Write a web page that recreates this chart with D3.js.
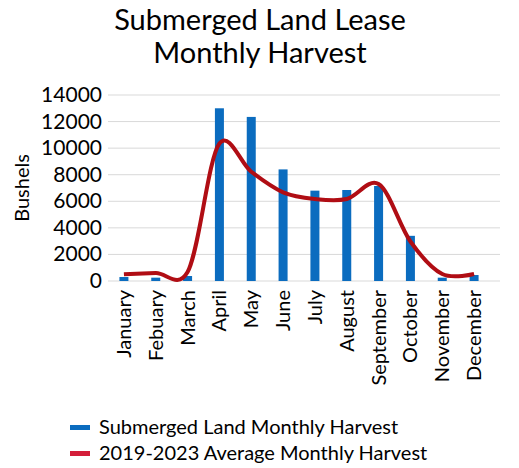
<!DOCTYPE html><html><head><meta charset="utf-8"><script src="https://cdn.jsdelivr.net/npm/d3@7"></script>
<style>body{margin:0;background:#fff}text{font-family:Lato,"Open Sans",sans-serif}</style></head><body><svg id="c" width="519" height="468"></svg><script>
const months=["January","Febuary","March","April","May","June","July","August","September","October","November","December"];
const harvest=[300,250,375,13000,12350,8400,6800,6850,7150,3400,250,450];
const average=[500,600,675,10350,8225,6675,6175,6175,7300,2975,525,525];
const yTicks=[0,2000,4000,6000,8000,10000,12000,14000];
const svg=d3.select("#c");
const x=d3.scaleBand().domain(months).range([108,490]);
const y=d3.scaleLinear().domain([0,14000]).range([281,95]);
svg.append("g").selectAll("line").data(yTicks.slice(1)).join("line").attr("x1",108).attr("x2",500).attr("y1",d=>y(d)).attr("y2",d=>y(d)).attr("stroke","#d9d9d9");
svg.append("line").attr("x1",108).attr("x2",500).attr("y1",y(0)).attr("y2",y(0)).attr("stroke","#d9d9d9");
svg.append("g").selectAll("text").data(yTicks).join("text").attr("x",102).attr("y",d=>y(d)+7).attr("text-anchor","end").attr("font-size",21).text(d=>d);
svg.append("text").attr("transform","translate(29,"+y(7000)+") rotate(-90)").attr("text-anchor","middle").attr("font-size",20).text("Bushels");
const cx=d=>x(d)+x.bandwidth()/2;
svg.append("g").selectAll("rect").data(harvest).join("rect").attr("x",(d,i)=>cx(months[i])-4.5).attr("width",9).attr("y",d=>y(d)).attr("height",d=>y(0)-y(d)).attr("fill","#0b6cbf");
svg.append("path").datum(average).attr("d",d3.line().x((d,i)=>cx(months[i])).y(d=>y(d)).curve(d3.curveCatmullRom.alpha(0.1))).attr("fill","none").attr("stroke","#b00d14").attr("stroke-width",4);
svg.append("g").selectAll("text").data(months).join("text").attr("transform",d=>"translate("+(cx(d)+7)+",290) rotate(-90)").attr("text-anchor","end").attr("font-size",20).text(d=>d);
svg.append("text").attr("x",260).attr("y",30).attr("text-anchor","middle").attr("font-size",29).text("Submerged Land Lease");
svg.append("text").attr("x",260).attr("y",63).attr("text-anchor","middle").attr("font-size",29).text("Monthly Harvest");
const leg=[["Submerged Land Monthly Harvest","#0b6cbf"],["2019-2023 Average Monthly Harvest","#d41e3a"]];
leg.forEach((l,i)=>{svg.append("rect").attr("x",70).attr("y",425+i*26).attr("width",20).attr("height",5).attr("fill",l[1]);
svg.append("text").attr("x",99).attr("y",434+i*26).attr("font-size",20).text(l[0]);});
</script></body></html>
